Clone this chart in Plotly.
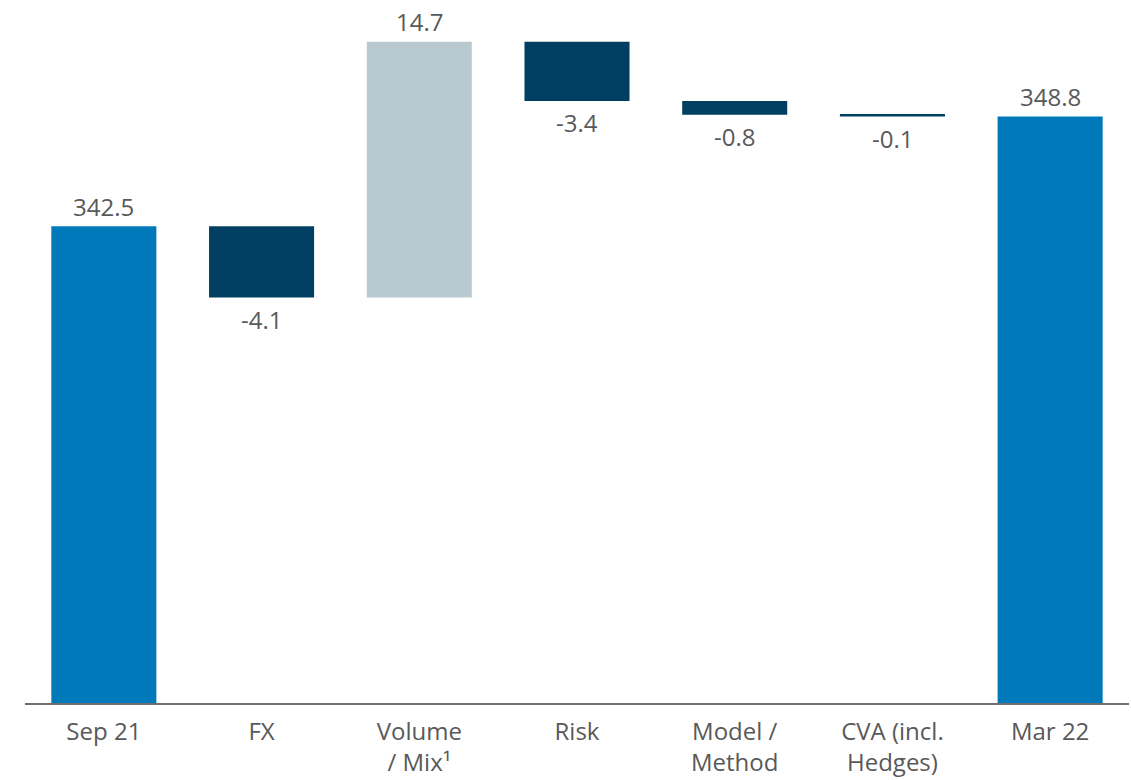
import plotly.graph_objects as go

# RWA walk, Sep 21 -> Mar 22 (EUR bn)
categories = ["Sep 21", "FX", "Volume<br>/ Mix¹", "Risk", "Model /<br>Method", "CVA (incl.<br>Hedges)", "Mar 22"]
measures = ["absolute", "relative", "relative", "relative", "relative", "relative", "total"]
values = [342.5, -4.1, 14.7, -3.4, -0.8, -0.1, 348.8]

BLUE = "#0079BA"
NAVY = "#003F62"
LIGHT = "#B9C9D0"
TEXT = "#595959"
FONT = "Open Sans"

fig = go.Figure(go.Waterfall(
    x=list(range(len(categories))),
    y=values,
    measure=measures,
    increasing=dict(marker=dict(color=LIGHT)),
    decreasing=dict(marker=dict(color=NAVY)),
    totals=dict(marker=dict(color=BLUE)),
    connector=dict(visible=False),
    hoverinfo="skip",
))

# value labels: above the bar end for totals/increases, below for decreases
running = 0.0
for i, (m, v) in enumerate(zip(measures, values)):
    if m == "absolute":
        running = v
        y, shift = v, 20
    elif m == "total":
        y, shift = v, 20
    else:
        if v >= 0:
            running += v
            y, shift = running, 20
        else:
            y = running + v
            running = y
            shift = -22
    fig.add_annotation(
        x=i, y=y, text=f"{v:.1f}", showarrow=False,
        yshift=shift, yanchor="middle",
        font=dict(family=FONT, size=24, color=TEXT),
    )

fig.update_layout(
    width=1131, height=780,
    margin=dict(l=25, r=2, t=0, b=77),
    plot_bgcolor="white", paper_bgcolor="white",
    waterfallgap=0.334,
    showlegend=False,
    font=dict(family=FONT, size=24, color=TEXT),
)
fig.update_xaxes(
    range=[-0.5, 6.5],
    tickmode="array", tickvals=list(range(len(categories))), ticktext=categories,
    showline=True, linecolor="#6E6E6E", linewidth=1.5,
    showgrid=False, zeroline=False, ticks="",
    ticklabelstandoff=6,
    tickfont=dict(family=FONT, size=24, color=TEXT),
)
fig.update_yaxes(
    range=[315.1, 355.5],
    visible=False, showgrid=False, zeroline=False,
)

fig.write_html("out.html")
